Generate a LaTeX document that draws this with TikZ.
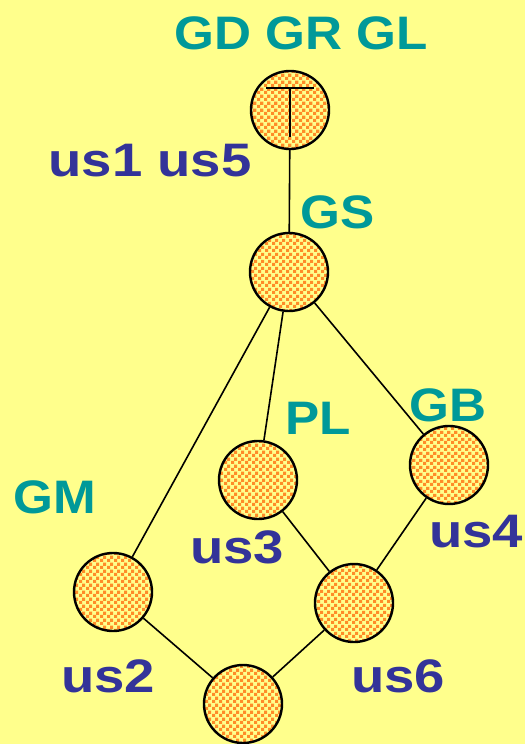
\documentclass[tikz,border=0pt]{standalone}
\usepackage{fontspec}
\setmainfont{Liberation Sans}
\newfontfamily\grpfont[FakeStretch=1.09]{Liberation Sans}
\newfontfamily\usrfont[FakeStretch=1.16]{Liberation Sans}
\usetikzlibrary{patterns.meta}
\definecolor{bg}{HTML}{FFFF8C}
\definecolor{teal}{HTML}{009999}
\definecolor{navy}{HTML}{333399}
\definecolor{checkorange}{HTML}{FF8C28}
% orange/yellow checks for the vertex fill
\pgfdeclarepattern{
  name=vertexchecks,
  type=uncolored,
  bottom left={\pgfpointorigin},
  top right={\pgfqpoint{6.6pt}{6.6pt}},
  tile size={\pgfqpoint{6.6pt}{6.6pt}},
  code={
    \pgfpathrectangle{\pgfpointorigin}{\pgfqpoint{3.3pt}{3.3pt}}
    \pgfpathrectangle{\pgfqpoint{3.3pt}{3.3pt}}{\pgfqpoint{3.3pt}{3.3pt}}
    \pgfusepath{fill}
  }
}
\tikzset{
  vertex/.style={circle, draw=black, line width=2.4pt, minimum size=78pt, inner sep=0pt,
    preaction={fill=bg}, pattern=vertexchecks, pattern color=checkorange},
  edge/.style={line width=1.6pt},
  grp/.style={text=teal, font=\grpfont\fontsize{47}{47}\selectfont\bfseries, inner sep=0pt},
  usr/.style={text=navy, font=\usrfont\fontsize{47}{47}\selectfont\bfseries, inner sep=0pt}
}
\begin{document}
\begin{tikzpicture}[x=1pt,y=-1pt]
  \fill[bg] (0,0) rectangle (525,744);
  \useasboundingbox (0,0) rectangle (525,744);

  % lattice vertices
  \node[vertex] (top) at (290,110) {};
  \node[vertex] (gs)  at (289,272) {};
  \node[vertex] (pl)  at (258,480) {};
  \node[vertex] (gb)  at (449,465) {};
  \node[vertex] (gm)  at (113,592) {};
  \node[vertex] (u6)  at (354,603) {};
  \node[vertex] (bot) at (243,704) {};

  % top symbol
  \coordinate (tl) at (266,88);
  \coordinate (tr) at (314,88);
  \coordinate (tm) at (290,88);
  \coordinate (tb) at (290,137);
  \draw[edge] (tl) -- (tr);
  \draw[edge] (tm) -- (tb);

  % edges
  \draw[edge] (top) -- (gs);
  \draw[edge] (gs) -- (gm);
  \draw[edge] (gs) -- (pl);
  \draw[edge] (gs) -- (gb);
  \draw[edge] (gm) -- (bot);
  \draw[edge] (pl) -- (u6);
  \draw[edge] (gb) -- (u6);
  \draw[edge] (u6) -- (bot);

  % labels
  \node[grp] (lgd) at (301,33) {GD GR GL};
  \node[usr] (lus15) at (150,161) {us1 us5};
  \node[grp] (lgs) at (338,212) {GS};
  \node[grp] (lpl) at (318,418) {PL};
  \node[grp] (lgb) at (448,405) {GB};
  \node[grp] (lgm) at (55,497) {GM};
  \node[usr] (lus3) at (237,547) {us3};
  \node[usr] (lus4) at (476,532) {us4};
  \node[usr] (lus2) at (108,676) {us2};
  \node[usr] (lus6) at (398,676) {us6};
\end{tikzpicture}
\end{document}
